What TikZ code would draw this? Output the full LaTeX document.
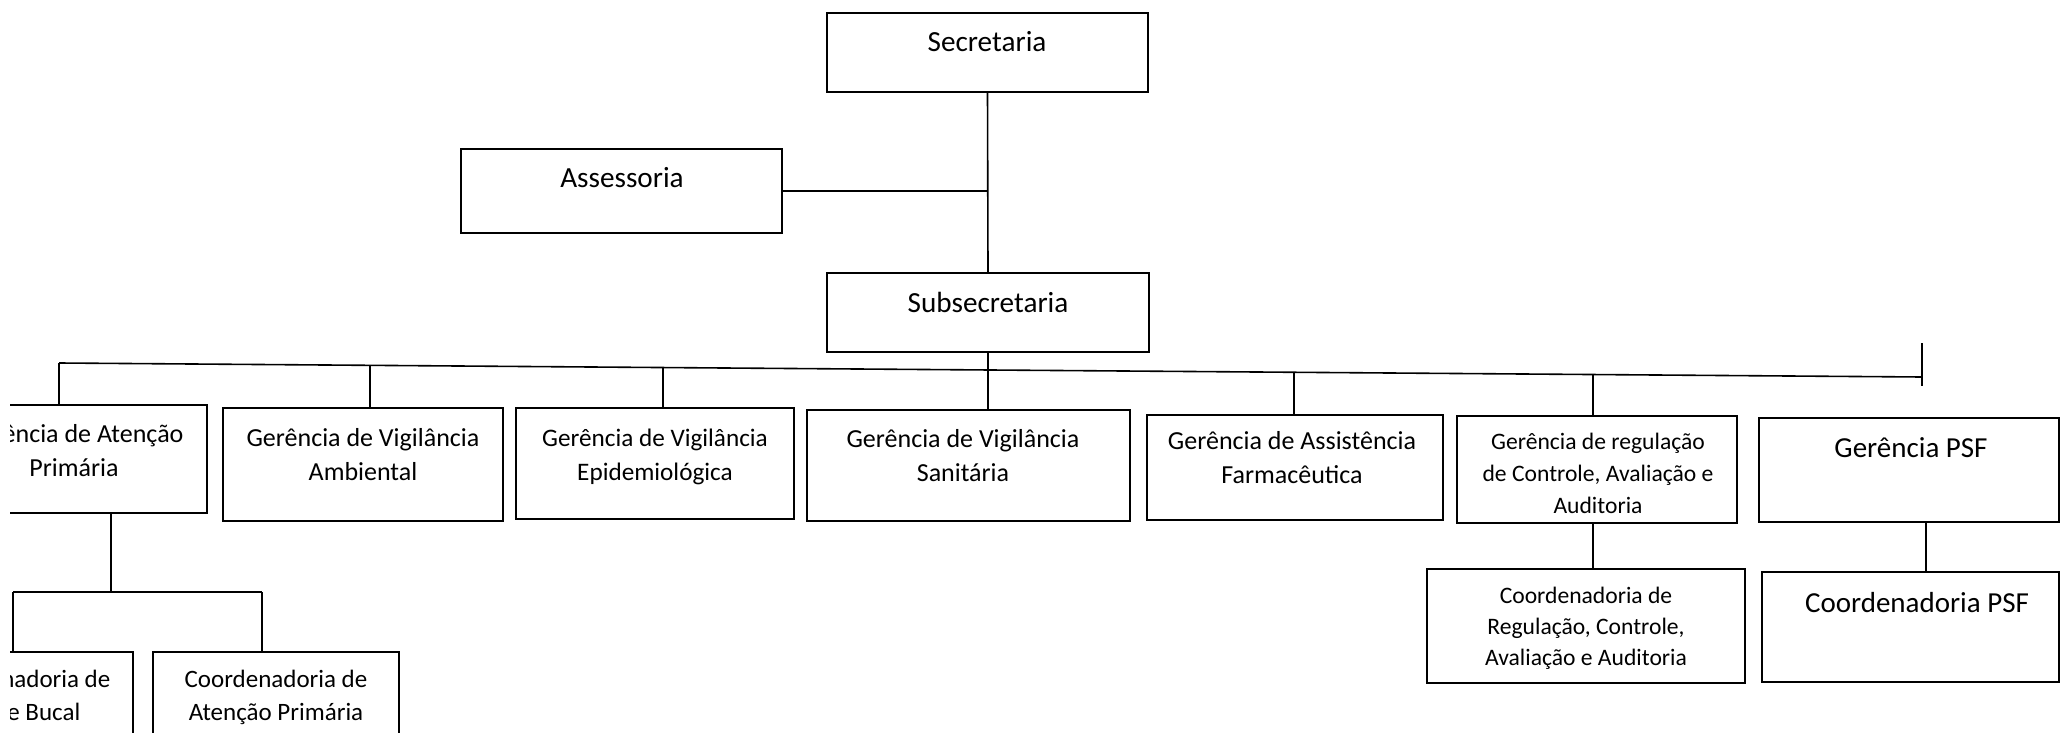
\documentclass[tikz,border=0pt]{standalone}
\usepackage{fontspec}
\setmainfont{Carlito}
\usetikzlibrary{calc}
\newcommand\ml[1]{\begin{tabular}[t]{@{}c@{}}#1\end{tabular}}
\tikzset{
  orgbox/.style 2 args={draw, line width=1.3pt, anchor=north west, inner sep=0pt, outer sep=0pt, minimum width={#1*0.5pt}, minimum height={#2*0.5pt}},
  conn/.style={line width=0.8pt},
  lbl/.style={anchor=base, inner sep=0pt, outer sep=0pt},
  bigf/.style={font={\fontsize{14.6}{17}\selectfont}},
  midf/.style={font={\fontsize{13}{17.25}\selectfont}},
  epif/.style={font={\fontsize{12.6}{17.25}\selectfont}},
  regf/.style={font={\fontsize{11.8}{16}\selectfont}},
  crgf/.style={font={\fontsize{11.8}{15.5}\selectfont}},
  capf/.style={font={\fontsize{12.5}{16.5}\selectfont}},
  psff/.style={font={\fontsize{14.5}{17}\selectfont}}
}
\begin{document}
\begin{tikzpicture}[x=0.5pt,y=-0.5pt]
\useasboundingbox (0,0) rectangle (2062,733);
\begin{scope}
\clip (10,0) rectangle (2062,733);
% boxes
\node[orgbox={321}{79}] (sec) at (827,13) {};
\node[orgbox={321}{84}] (ass) at (461,149) {};
\node[orgbox={322}{79}] (sub) at (827,273) {};
\node[orgbox={266}{108}] (atn) at (-59,405) {};
\node[orgbox={280}{113}] (amb) at (223,408) {};
\node[orgbox={278}{111}] (epi) at (516,408) {};
\node[orgbox={323}{111}] (san) at (807,410) {};
\node[orgbox={296}{105}] (far) at (1147,415) {};
\node[orgbox={280}{107}] (reg) at (1457,416) {};
\node[orgbox={300}{104}] (psf) at (1759,418) {};
\node[orgbox={228}{108}] (cbu) at (-95,652) {};
\node[orgbox={246}{108}] (cap) at (153,652) {};
\node[orgbox={318}{114}] (crg) at (1427,569) {};
\node[orgbox={297}{110}] (cps) at (1762,572) {};
% texts
\node[lbl,bigf] (tsec) at (987,52) {Secretaria};
\node[lbl,bigf] (tass) at (622,187) {Assessoria};
\node[lbl,bigf] (tsub) at (988,312) {Subsecretaria};
\node[lbl,midf] (tatn) at (74,442) {\ml{Gerência de Atenção\\Primária}};
\node[lbl,midf] (tamb) at (363,446) {\ml{Gerência de Vigilância\\Ambiental}};
\node[lbl,epif] (tepi) at (655,446) {\ml{Gerência de Vigilância\\Epidemiológica}};
\node[lbl,midf] (tsan) at (963,447) {\ml{Gerência de Vigilância\\Sanitária}};
\node[lbl,midf] (tfar) at (1292,449) {\ml{Gerência de Assistência\\Farmacêutica}};
\node[lbl,regf] (treg) at (1598,449) {\ml{Gerência de regulação\\de Controle, Avaliação e\\Auditoria}};
\node[lbl,psff] (tpsf) at (1911,457) {Gerência PSF};
\node[lbl,capf] (tcbu) at (19,687) {\ml{Coordenadoria de\\Saúde Bucal}};
\node[lbl,capf] (tcap) at (276,687) {\ml{Coordenadoria de\\Atenção Primária}};
\node[lbl,crgf] (tcrg) at (1586,603) {\ml{Coordenadoria de\\Regulação, Controle,\\Avaliação e Auditoria}};
\node[lbl,psff] (tcps) at (1917,612) {Coordenadoria PSF};
% connectors
\draw[conn] (sec.south) -- (sub.north);
\draw[conn] (ass.east) -- (ass.east -| sec.south);
\draw[conn] (sub.south) -- (sub.south |- san.north);
\coordinate (busL) at (59,363);
\coordinate (busR) at (1922,377);
\coordinate (tickT) at (1922,343);
\coordinate (tickB) at (1922,386);
\draw[conn] (busL) -- (busR);
\draw[conn] (tickT) -- (tickB);
\draw[conn] (busL) -- (busL |- atn.north);
\coordinate (d2) at (370,365.3);
\coordinate (d3) at (663,367.5);
\coordinate (d5) at (1294,372.3);
\coordinate (d6) at (1593,374.5);
\coordinate (d7) at (1926,0);
\draw[conn] (d2) -- (d2 |- amb.north);
\draw[conn] (d3) -- (d3 |- epi.north);
\draw[conn] (d5) -- (d5 |- far.north);
\draw[conn] (d6) -- (d6 |- reg.north);
\draw[conn] (d6 |- reg.south) -- (d6 |- crg.north);
\draw[conn] (d7 |- psf.south) -- (d7 |- cps.north);
\coordinate (a0) at (111,592);
\coordinate (aL) at (13,592);
\coordinate (aR) at (262,592);
\draw[conn] (a0 |- atn.south) -- (a0);
\draw[conn] (aL) -- (aR);
\draw[conn] (aL) -- (aL |- cbu.north);
\draw[conn] (aR) -- (aR |- cap.north);
\end{scope}
\end{tikzpicture}
\end{document}
